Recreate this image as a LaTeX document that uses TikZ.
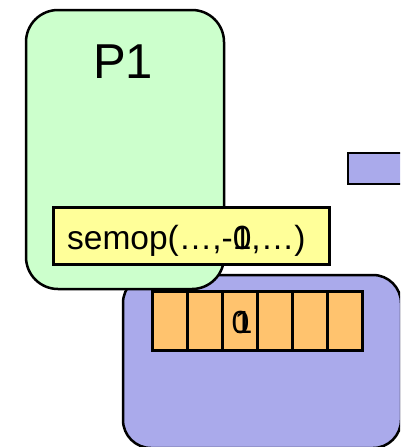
\documentclass[tikz,border=0pt]{standalone}
\usepackage{fontspec}
\setmainfont{Liberation Sans}
\definecolor{pgreen}{RGB}{204,255,204}
\definecolor{pyellow}{RGB}{255,255,153}
\definecolor{pblue}{RGB}{170,170,235}
\definecolor{porange}{RGB}{255,195,110}
\tikzset{
  panel/.style={draw=black, line width=2.5pt, rounded corners=28pt},
  cellbox/.style={draw=black, line width=3pt, fill=porange, minimum width=35pt, minimum height=59pt, inner sep=0pt, outer sep=0pt},
  bigtxt/.style={font=\fontsize{49}{54}\selectfont, inner sep=0pt},
  midtxt/.style={font=\fontsize{33.5}{38}\selectfont, inner sep=0pt},
  celltxt/.style={font=\fontsize{32}{36}\selectfont, inner sep=0pt}
}
\begin{document}
\begin{tikzpicture}[x=1pt,y=-1pt]
\useasboundingbox (0,0) rectangle (400,447);
\begin{scope}
\clip (0,0) rectangle (400,447);
% kernel area
\draw[panel, fill=pblue] (123,275) rectangle (401,448);
\draw[draw=black, line width=2.5pt, fill=pblue] (348,153) rectangle (420,184);
% process P1
\draw[panel, fill=pgreen, rounded corners=32pt] (26,10) rectangle (224,289);
\end{scope}
\node[bigtxt, anchor=base] (p1) at (123,78) {P1};
% semop call
\node[draw=black, line width=2.5pt, fill=pyellow, minimum width=276pt, minimum height=57pt, inner sep=0pt, anchor=north west] (call) at (52,206) {};
\node[midtxt, anchor=base west] (calltxt) at (67,249) {semop(…,-\rlap{0}1,…)};
% semaphore array
\foreach \i in {0,...,5}{
  \node[cellbox, anchor=north west] (c\i) at ({152+35*\i},291) {};
}
\node[celltxt, anchor=base] (v0) at ([xshift=1pt]c2.center |- 0,333) {0};
\node[celltxt, anchor=base] (v1) at ([xshift=4pt]c2.center |- 0,333) {1};
\end{tikzpicture}
\end{document}
